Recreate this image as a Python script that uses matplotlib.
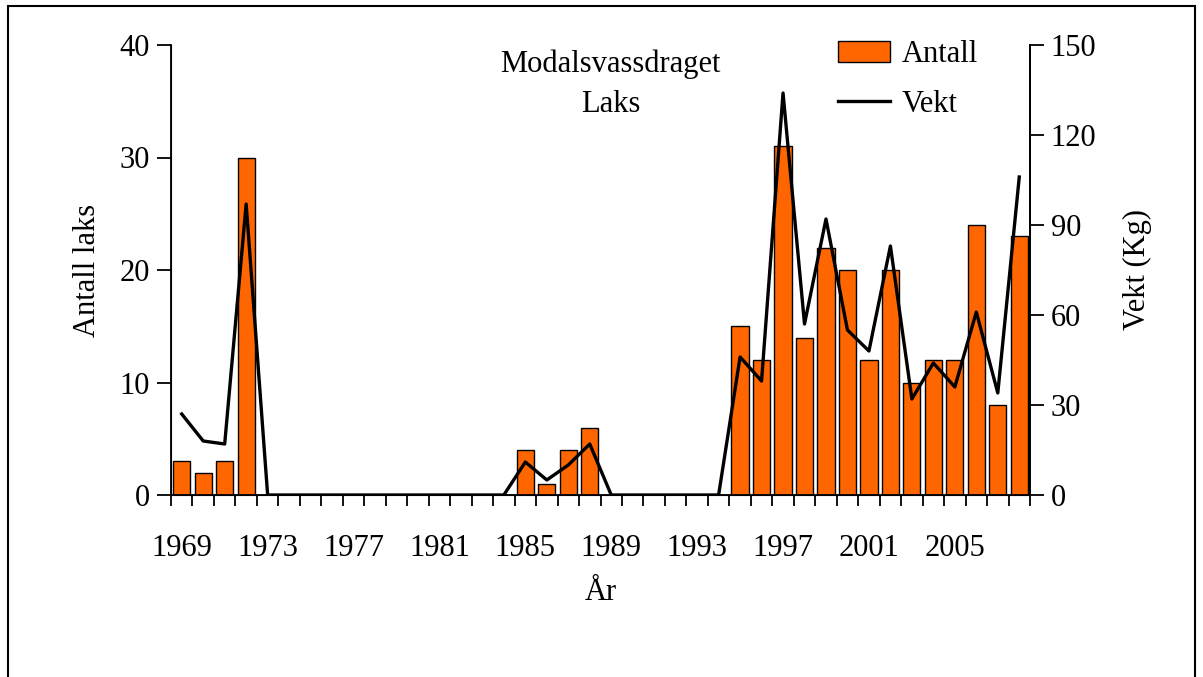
import matplotlib.pyplot as plt
from matplotlib.patches import Rectangle
import numpy as np

plt.rcParams['font.family'] = ['Liberation Serif', 'DejaVu Serif']

years = list(range(1969, 2009))
antall = [3, 2, 3, 30, 0, 0, 0, 0, 0, 0, 0, 0, 0, 0, 0, 0,
          4, 1, 4, 6, 0, 0, 0, 0, 0, 0,
          15, 12, 31, 14, 22, 20, 12, 20, 10, 12, 12, 24, 8, 23]
vekt = [27, 18, 17, 97, 0, 0, 0, 0, 0, 0, 0, 0, 0, 0, 0, 0,
        11, 5, 10, 17, 0, 0, 0, 0, 0, 0,
        46, 38, 134, 57, 92, 55, 48, 83, 32, 44, 36, 61, 34, 106]
year_labels = [str(y) for y in range(1969, 2009, 4)]

fs = 22

fig = plt.figure(figsize=(12.03, 6.77), dpi=100)
fig.patches.append(Rectangle((8 / 1203, -0.1), (1195 - 8) / 1203, 1.1 - 6 / 677,
                             transform=fig.transFigure, fill=False,
                             edgecolor='black', linewidth=1.5))
ax = fig.add_axes([171 / 1203, 1 - 495 / 677, (1030 - 171) / 1203, (495 - 45) / 677])

x = np.arange(len(years))
ax.bar(x, antall, width=0.8, color='#FF6600', edgecolor='black', linewidth=1,
       label='Antall')
ax.set_xlim(-0.5, len(years) - 0.5)
ax.set_ylim(0, 40)
ax.set_yticks([0, 10, 20, 30, 40])
ax.set_xticks([years.index(int(l)) for l in year_labels])
ax.set_xticklabels(year_labels)
ax.set_xticks(np.arange(-0.5, len(years)), minor=True)
ax.tick_params(axis='x', which='major', length=0, pad=28, labelsize=fs)
ax.tick_params(axis='x', which='minor', length=8, width=1.3, direction='out')
ax.tick_params(axis='y', length=10, width=1.3, labelsize=fs, pad=5)
for s in ['left', 'bottom', 'right']:
    ax.spines[s].set_linewidth(1.3)
ax.spines['top'].set_visible(False)
ax.set_ylabel('Antall laks', fontsize=fs, labelpad=13)
ax.set_xlabel('År', fontsize=fs, labelpad=11)

ax2 = ax.twinx()
ax2.plot(x, vekt, color='black', linewidth=2.4, label='Vekt')
ax2.set_ylim(0, 150)
ax2.set_yticks([0, 30, 60, 90, 120, 150])
ax2.tick_params(axis='y', length=10, width=1.3, labelsize=fs, pad=5)
ax2.spines['top'].set_visible(False)
ax2.spines['right'].set_linewidth(1.3)
ax2.set_ylabel('Vekt (Kg)', fontsize=fs, labelpad=19)

ax.text(0.512, 0.958, 'Modalsvassdraget', transform=ax.transAxes, ha='center',
        va='center', fontsize=fs)
ax.text(0.512, 0.868, 'Laks', transform=ax.transAxes, ha='center',
        va='center', fontsize=fs)

h1, l1 = ax.get_legend_handles_labels()
h2, l2 = ax2.get_legend_handles_labels()
ax2.legend(h1 + h2, l1 + l2, loc='upper right', bbox_to_anchor=(0.961, 1.051),
           frameon=False, fontsize=fs, handlelength=1.7, handletextpad=0.4,
           labelspacing=0.68, borderaxespad=0.2)

fig.savefig('out.png', dpi=100)
